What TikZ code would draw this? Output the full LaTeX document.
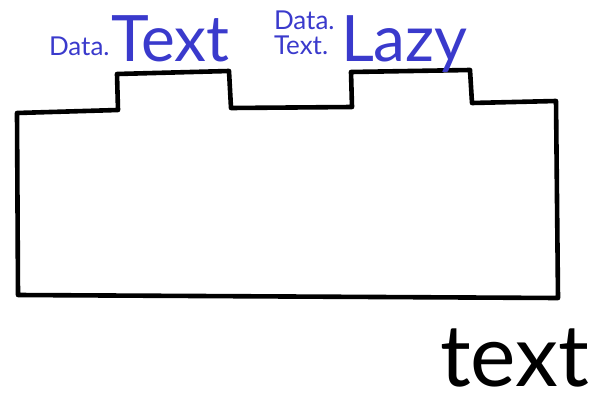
\documentclass[tikz,border=0pt]{standalone}
\usepackage{fontspec}
\setmainfont{Lato}
\usetikzlibrary{positioning}
\definecolor{pen}{HTML}{3A3ACC}

\begin{document}
\begin{tikzpicture}[x=1pt, y=-1pt,
    every node/.style={inner sep=0pt, outer sep=0pt},
    ln/.style={line width=4.6pt, line cap=round, line join=round},
    sm/.style={text=pen, font=\fontsize{26}{25}\selectfont, align=left},
    bg/.style={text=pen, font=\fontsize{64}{66}\selectfont},
    nm/.style={font=\fontsize{86}{90}\selectfont}
]
\useasboundingbox (0,0) rectangle (604,404);
% outline with the two tabs
\draw[ln] (17,113) -- (118,110) -- (117,74) -- (229,71) -- (231,108)
  -- (352,107) -- (351,72) -- (470,70) -- (472,103) -- (556,101)
  -- (558,298) -- (18,295) -- cycle;
% module names
\node[sm, anchor=base west] (dt1) at (49,56) {Data.};
\node[bg, anchor=base west] (tx) at (111,61) {Text};
\node[sm, anchor=base west] (dt2) at (274,55) {Data.\\Text.};
\node[bg, anchor=base west] (lz) at (341,61) {Lazy};
% package
\node[nm, anchor=base west] (pkg) at (440,386) {text};
\end{tikzpicture}
\end{document}
